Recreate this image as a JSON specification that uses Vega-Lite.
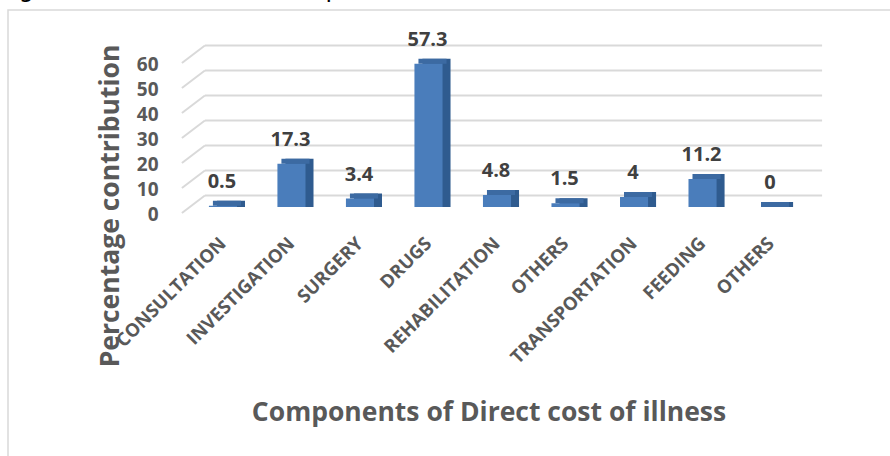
{
  "$schema": "https://vega.github.io/schema/vega-lite/v6.json",
  "width": 895,
  "height": 452,
  "autosize": {"type": "none"},
  "padding": {"left": 8, "top": 10, "right": 0, "bottom": 0},
  "background": "white",
  "title": {
    "text": "Figure 4.8 Distribution components of direct cost of illness",
    "anchor": "start",
    "frame": "group",
    "orient": "top",
    "offset": -16,
    "baseline": "bottom",
    "dx": -8,
    "font": "DejaVu Sans",
    "fontSize": 24,
    "fontWeight": "normal",
    "color": "#000000"
  },
  "config": {
    "view": {"stroke": "#d9d9d9", "strokeWidth": 1.5},
    "font": "Open Sans"
  },
  "datasets": {
    "costs": [
      {"component": "CONSULTATION", "share": 0.5},
      {"component": "INVESTIGATION", "share": 17.3},
      {"component": "SURGERY", "share": 3.4},
      {"component": "DRUGS", "share": 57.3},
      {"component": "REHABILITATION", "share": 4.8},
      {"component": "OTHERS", "share": 1.5},
      {"component": "TRANSPORTATION", "share": 4},
      {"component": "FEEDING", "share": 11.2},
      {"component": "OTHERS\u200b", "share": 0}
    ],
    "levels": [
      {"level": 0}, {"level": 10}, {"level": 20}, {"level": 30},
      {"level": 40}, {"level": 50}, {"level": 60}
    ]
  },
  "layer": [
    {
      "data": {"name": "levels"},
      "mark": {"type": "rule", "color": "#d9d9d9", "strokeWidth": 2, "xOffset": -4, "x2Offset": 37, "yOffset": -11.5, "y2Offset": -11.5},
      "encoding": {
        "x": {
          "datum": "CONSULTATION",
          "type": "nominal",
          "bandPosition": 0,
          "scale": {
            "domain": ["CONSULTATION", "INVESTIGATION", "SURGERY", "DRUGS", "REHABILITATION", "OTHERS", "TRANSPORTATION", "FEEDING", "OTHERS\u200b"],
            "range": [180.7, 797.3],
            "paddingInner": 0.59,
            "paddingOuter": 0.295
          },
          "axis": {
            "title": "Components of Direct cost of illness",
            "orient": "bottom",
            "offset": -255,
            "domain": false,
            "ticks": false,
            "tickSize": 0,
            "grid": false,
            "labelAngle": -45,
            "labelAlign": "right",
            "labelBaseline": "middle",
            "labelPadding": 33,
            "labelOffset": 0,
            "labelOverlap": false,
            "labelFlush": false,
            "labelBound": false,
            "labelLimit": 400,
            "labelFont": "Open Sans",
            "labelFontWeight": "bold",
            "labelFontSize": 18.5,
            "labelColor": "#595959",
            "titleFont": "Open Sans",
            "titleFontWeight": "bold",
            "titleFontSize": 26.5,
            "titleColor": "#595959",
            "titleX": 480.5,
            "titleY": 213,
            "titleAlign": "center",
            "titleBaseline": "alphabetic"
          }
        },
        "x2": {"datum": "OTHERS\u200b", "bandPosition": 1},
        "y": {
          "field": "level",
          "type": "quantitative",
          "scale": {"domain": [0, 60], "range": [197, 47], "nice": false, "zero": true},
          "axis": {
            "title": "Percentage contribution",
            "orient": "left",
            "offset": -150,
            "domain": false,
            "ticks": false,
            "tickSize": 0,
            "grid": false,
            "values": [0, 10, 20, 30, 40, 50, 60],
            "labelPadding": 0,
            "labelOffset": 7,
            "labelFont": "Open Sans",
            "labelFontWeight": "bold",
            "labelFontSize": 19,
            "labelColor": "#595959",
            "labelAlign": "right",
            "labelBaseline": "middle",
            "titleFont": "Open Sans",
            "titleFontWeight": "bold",
            "titleFontSize": 26.5,
            "titleColor": "#595959",
            "titleAngle": -90,
            "titleX": -40,
            "titleY": 195.5,
            "titleAlign": "center",
            "titleBaseline": "alphabetic"
          }
        },
        "y2": {"field": "level"}
      }
    },
    {
      "data": {"name": "levels"},
      "mark": {"type": "rule", "color": "#d9d9d9", "strokeWidth": 2, "xOffset": -27, "x2Offset": -4, "yOffset": 6, "y2Offset": -11.5},
      "encoding": {
        "x": {"datum": "CONSULTATION", "type": "nominal", "bandPosition": 0},
        "x2": {"datum": "CONSULTATION", "bandPosition": 0},
        "y": {"field": "level", "type": "quantitative"},
        "y2": {"field": "level"}
      }
    },
    {
      "data": {"name": "costs"},
      "mark": {"type": "bar", "color": "#2f5b8f", "xOffset": 8, "yOffset": -5, "y2Offset": 0},
      "encoding": {
        "x": {"field": "component", "type": "nominal"},
        "y": {"field": "share", "type": "quantitative", "stack": null},
        "y2": {"datum": 0}
      }
    },
    {
      "data": {"name": "costs"},
      "mark": {"type": "bar", "color": "#3c6aa2", "xOffset": 4, "yOffset": -5, "y2Offset": 0},
      "encoding": {
        "x": {"field": "component", "type": "nominal"},
        "y": {"field": "share", "type": "quantitative", "stack": null},
        "y2": {"field": "share"}
      }
    },
    {
      "data": {"name": "costs"},
      "mark": {"type": "bar", "color": "#4a7dbb"},
      "encoding": {
        "x": {"field": "component", "type": "nominal"},
        "y": {"field": "share", "type": "quantitative", "stack": null},
        "y2": {"datum": 0}
      }
    },
    {
      "data": {"name": "costs"},
      "mark": {"type": "text", "font": "Open Sans", "fontWeight": "bold", "fontSize": 20, "color": "#404040", "baseline": "alphabetic", "align": "center", "dy": -18, "dx": -1},
      "encoding": {
        "x": {"field": "component", "type": "nominal"},
        "y": {"field": "share", "type": "quantitative"},
        "text": {"field": "share", "type": "nominal"}
      }
    }
  ]
}
